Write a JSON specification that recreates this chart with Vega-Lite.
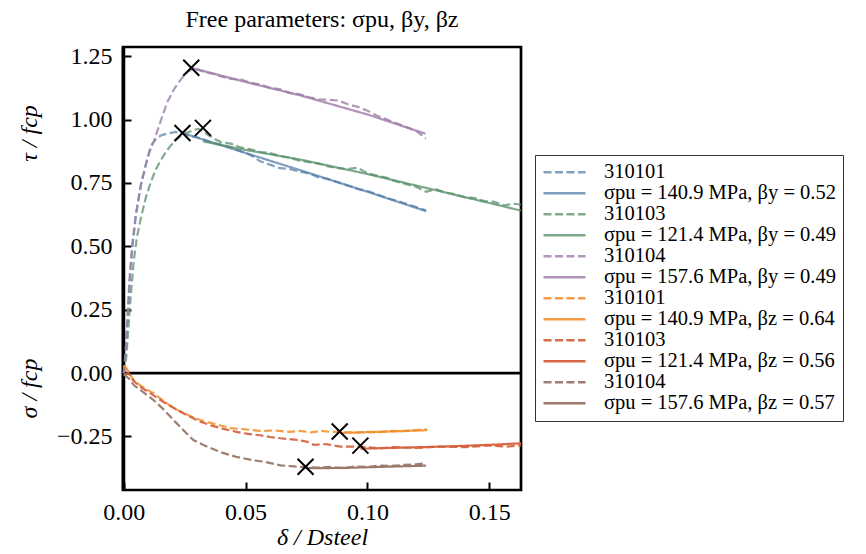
{
  "$schema": "https://vega.github.io/schema/vega-lite/v6.json",
  "width": 398,
  "height": 443,
  "autosize": {"type": "none"},
  "padding": {"left": 123, "top": 47, "right": 345, "bottom": 64},
  "background": "white",
  "title": {"text": "Free parameters: σpu, βy, βz", "offset": 12, "anchor": "middle"},
  "config": {
    "font": "Liberation Serif",
    "view": {"stroke": "black", "strokeWidth": 2.7},
    "title": {"font": "Liberation Serif", "fontSize": 24, "fontWeight": "normal", "color": "black"},
    "legend": {"labelFont": "Liberation Serif", "labelFontSize": 20.5, "labelColor": "black"},
    "axis": {"labelFont": "Liberation Serif", "labelFontSize": 24, "labelColor": "black", "titleFont": "Liberation Serif", "titleFontSize": 24, "titleFontWeight": "normal", "titleColor": "black", "grid": false, "tickColor": "black", "tickWidth": 2, "tickSize": -8, "domainColor": "black"}
  },
  "datasets": {
    "curves": [
      {"s":"01","x":0,"y":0},{"s":"01","x":0.0008,"y":0.08},{"s":"01","x":0.0016,"y":0.22},{"s":"01","x":0.0025,"y":0.37},{"s":"01","x":0.0035,"y":0.49},{"s":"01","x":0.005,"y":0.62},{"s":"01","x":0.007,"y":0.74},{"s":"01","x":0.009,"y":0.82},{"s":"01","x":0.0105,"y":0.875},{"s":"01","x":0.0117,"y":0.905},{"s":"01","x":0.0135,"y":0.925},{"s":"01","x":0.0152,"y":0.937},{"s":"01","x":0.018,"y":0.945},{"s":"01","x":0.0213,"y":0.951},{"s":"01","x":0.024,"y":0.945},{"s":"01","x":0.027,"y":0.935},{"s":"01","x":0.03,"y":0.93},{"s":"01","x":0.033,"y":0.92},{"s":"01","x":0.036,"y":0.91},{"s":"01","x":0.04,"y":0.9},{"s":"01","x":0.044,"y":0.89},{"s":"01","x":0.048,"y":0.875},{"s":"01","x":0.052,"y":0.86},{"s":"01","x":0.056,"y":0.835},{"s":"01","x":0.06,"y":0.822},{"s":"01","x":0.064,"y":0.808},{"s":"01","x":0.068,"y":0.805},{"s":"01","x":0.072,"y":0.795},{"s":"01","x":0.076,"y":0.787},{"s":"01","x":0.08,"y":0.772},{"s":"01","x":0.084,"y":0.765},{"s":"01","x":0.088,"y":0.752},{"s":"01","x":0.092,"y":0.74},{"s":"01","x":0.096,"y":0.726},{"s":"01","x":0.1,"y":0.718},{"s":"01","x":0.104,"y":0.705},{"s":"01","x":0.108,"y":0.69},{"s":"01","x":0.112,"y":0.68},{"s":"01","x":0.116,"y":0.668},{"s":"01","x":0.12,"y":0.655},{"s":"01","x":0.124,"y":0.642},
      {"s":"02","x":0.0241,"y":0.947},{"s":"02","x":0.05,"y":0.868},{"s":"02","x":0.0725,"y":0.8},{"s":"02","x":0.1,"y":0.715},{"s":"02","x":0.1242,"y":0.638},
      {"s":"03","x":0,"y":0},{"s":"03","x":0.001,"y":0.06},{"s":"03","x":0.002,"y":0.19},{"s":"03","x":0.003,"y":0.32},{"s":"03","x":0.0042,"y":0.45},{"s":"03","x":0.0055,"y":0.54},{"s":"03","x":0.007,"y":0.61},{"s":"03","x":0.009,"y":0.69},{"s":"03","x":0.011,"y":0.75},{"s":"03","x":0.013,"y":0.8},{"s":"03","x":0.0152,"y":0.84},{"s":"03","x":0.0175,"y":0.875},{"s":"03","x":0.0195,"y":0.9},{"s":"03","x":0.0215,"y":0.92},{"s":"03","x":0.0234,"y":0.935},{"s":"03","x":0.026,"y":0.948},{"s":"03","x":0.0285,"y":0.958},{"s":"03","x":0.0305,"y":0.963},{"s":"03","x":0.0325,"y":0.955},{"s":"03","x":0.0345,"y":0.94},{"s":"03","x":0.037,"y":0.925},{"s":"03","x":0.04,"y":0.91},{"s":"03","x":0.044,"y":0.905},{"s":"03","x":0.048,"y":0.89},{"s":"03","x":0.052,"y":0.882},{"s":"03","x":0.056,"y":0.872},{"s":"03","x":0.06,"y":0.868},{"s":"03","x":0.064,"y":0.856},{"s":"03","x":0.068,"y":0.85},{"s":"03","x":0.072,"y":0.838},{"s":"03","x":0.076,"y":0.832},{"s":"03","x":0.08,"y":0.826},{"s":"03","x":0.084,"y":0.815},{"s":"03","x":0.088,"y":0.808},{"s":"03","x":0.092,"y":0.805},{"s":"03","x":0.096,"y":0.81},{"s":"03","x":0.1,"y":0.788},{"s":"03","x":0.104,"y":0.778},{"s":"03","x":0.108,"y":0.77},{"s":"03","x":0.112,"y":0.755},{"s":"03","x":0.116,"y":0.745},{"s":"03","x":0.12,"y":0.735},{"s":"03","x":0.124,"y":0.715},{"s":"03","x":0.128,"y":0.725},{"s":"03","x":0.132,"y":0.712},{"s":"03","x":0.136,"y":0.705},{"s":"03","x":0.14,"y":0.693},{"s":"03","x":0.144,"y":0.69},{"s":"03","x":0.148,"y":0.678},{"s":"03","x":0.152,"y":0.675},{"s":"03","x":0.156,"y":0.662},{"s":"03","x":0.16,"y":0.668},{"s":"03","x":0.163,"y":0.664},
      {"s":"04","x":0.0325,"y":0.914},{"s":"04","x":0.05,"y":0.88},{"s":"04","x":0.0725,"y":0.842},{"s":"04","x":0.1,"y":0.785},{"s":"04","x":0.1242,"y":0.73},{"s":"04","x":0.163,"y":0.641},
      {"s":"05","x":0,"y":0},{"s":"05","x":0.0008,"y":0.09},{"s":"05","x":0.0016,"y":0.24},{"s":"05","x":0.0025,"y":0.39},{"s":"05","x":0.0035,"y":0.51},{"s":"05","x":0.005,"y":0.63},{"s":"05","x":0.007,"y":0.74},{"s":"05","x":0.009,"y":0.82},{"s":"05","x":0.0105,"y":0.87},{"s":"05","x":0.0124,"y":0.915},{"s":"05","x":0.015,"y":0.99},{"s":"05","x":0.0179,"y":1.07},{"s":"05","x":0.021,"y":1.125},{"s":"05","x":0.024,"y":1.165},{"s":"05","x":0.0265,"y":1.19},{"s":"05","x":0.0285,"y":1.2},{"s":"05","x":0.031,"y":1.195},{"s":"05","x":0.034,"y":1.185},{"s":"05","x":0.037,"y":1.18},{"s":"05","x":0.04,"y":1.17},{"s":"05","x":0.044,"y":1.16},{"s":"05","x":0.048,"y":1.158},{"s":"05","x":0.052,"y":1.145},{"s":"05","x":0.056,"y":1.138},{"s":"05","x":0.06,"y":1.125},{"s":"05","x":0.064,"y":1.12},{"s":"05","x":0.068,"y":1.105},{"s":"05","x":0.072,"y":1.1},{"s":"05","x":0.076,"y":1.088},{"s":"05","x":0.08,"y":1.08},{"s":"05","x":0.084,"y":1.078},{"s":"05","x":0.088,"y":1.075},{"s":"05","x":0.092,"y":1.06},{"s":"05","x":0.096,"y":1.05},{"s":"05","x":0.1,"y":1.035},{"s":"05","x":0.104,"y":1.015},{"s":"05","x":0.108,"y":1.0},{"s":"05","x":0.112,"y":0.985},{"s":"05","x":0.116,"y":0.97},{"s":"05","x":0.12,"y":0.955},{"s":"05","x":0.124,"y":0.925},
      {"s":"06","x":0.0277,"y":1.204},{"s":"06","x":0.05,"y":1.148},{"s":"06","x":0.0725,"y":1.095},{"s":"06","x":0.1,"y":1.02},{"s":"06","x":0.1238,"y":0.944},
      {"s":"07","x":0,"y":0.03},{"s":"07","x":0.001,"y":0.02},{"s":"07","x":0.002,"y":0.005},{"s":"07","x":0.004,"y":-0.028},{"s":"07","x":0.007,"y":-0.05},{"s":"07","x":0.0123,"y":-0.08},{"s":"07","x":0.017,"y":-0.115},{"s":"07","x":0.022,"y":-0.146},{"s":"07","x":0.027,"y":-0.168},{"s":"07","x":0.0316,"y":-0.186},{"s":"07","x":0.037,"y":-0.2},{"s":"07","x":0.0439,"y":-0.217},{"s":"07","x":0.05,"y":-0.222},{"s":"07","x":0.056,"y":-0.228},{"s":"07","x":0.062,"y":-0.226},{"s":"07","x":0.068,"y":-0.232},{"s":"07","x":0.0725,"y":-0.228},{"s":"07","x":0.077,"y":-0.234},{"s":"07","x":0.081,"y":-0.228},{"s":"07","x":0.085,"y":-0.232},{"s":"07","x":0.0886,"y":-0.231},{"s":"07","x":0.095,"y":-0.235},{"s":"07","x":0.1,"y":-0.232},{"s":"07","x":0.105,"y":-0.233},{"s":"07","x":0.11,"y":-0.228},{"s":"07","x":0.115,"y":-0.229},{"s":"07","x":0.12,"y":-0.225},{"s":"07","x":0.1245,"y":-0.222},
      {"s":"08","x":0.0886,"y":-0.236},{"s":"08","x":0.1,"y":-0.233},{"s":"08","x":0.11,"y":-0.23},{"s":"08","x":0.1245,"y":-0.225},
      {"s":"09","x":0,"y":-0.005},{"s":"09","x":0.002,"y":0.0},{"s":"09","x":0.004,"y":-0.03},{"s":"09","x":0.007,"y":-0.055},{"s":"09","x":0.011,"y":-0.08},{"s":"09","x":0.0152,"y":-0.107},{"s":"09","x":0.02,"y":-0.135},{"s":"09","x":0.026,"y":-0.166},{"s":"09","x":0.031,"y":-0.19},{"s":"09","x":0.0357,"y":-0.206},{"s":"09","x":0.041,"y":-0.22},{"s":"09","x":0.0467,"y":-0.233},{"s":"09","x":0.051,"y":-0.24},{"s":"09","x":0.056,"y":-0.245},{"s":"09","x":0.06,"y":-0.252},{"s":"09","x":0.0643,"y":-0.257},{"s":"09","x":0.07,"y":-0.262},{"s":"09","x":0.075,"y":-0.27},{"s":"09","x":0.078,"y":-0.283},{"s":"09","x":0.083,"y":-0.28},{"s":"09","x":0.089,"y":-0.29},{"s":"09","x":0.0971,"y":-0.29},{"s":"09","x":0.105,"y":-0.297},{"s":"09","x":0.11,"y":-0.292},{"s":"09","x":0.12,"y":-0.295},{"s":"09","x":0.13,"y":-0.29},{"s":"09","x":0.14,"y":-0.292},{"s":"09","x":0.15,"y":-0.285},{"s":"09","x":0.157,"y":-0.29},{"s":"09","x":0.163,"y":-0.285},
      {"s":"10","x":0.0971,"y":-0.298},{"s":"10","x":0.11,"y":-0.295},{"s":"10","x":0.13,"y":-0.29},{"s":"10","x":0.15,"y":-0.283},{"s":"10","x":0.163,"y":-0.277},
      {"s":"11","x":0,"y":-0.005},{"s":"11","x":0.002,"y":-0.02},{"s":"11","x":0.0041,"y":-0.047},{"s":"11","x":0.008,"y":-0.075},{"s":"11","x":0.0123,"y":-0.107},{"s":"11","x":0.016,"y":-0.14},{"s":"11","x":0.0205,"y":-0.186},{"s":"11","x":0.025,"y":-0.23},{"s":"11","x":0.0287,"y":-0.265},{"s":"11","x":0.033,"y":-0.285},{"s":"11","x":0.0398,"y":-0.312},{"s":"11","x":0.046,"y":-0.33},{"s":"11","x":0.0533,"y":-0.344},{"s":"11","x":0.058,"y":-0.35},{"s":"11","x":0.0643,"y":-0.364},{"s":"11","x":0.07,"y":-0.368},{"s":"11","x":0.0746,"y":-0.371},{"s":"11","x":0.08,"y":-0.373},{"s":"11","x":0.085,"y":-0.37},{"s":"11","x":0.09,"y":-0.375},{"s":"11","x":0.095,"y":-0.368},{"s":"11","x":0.1,"y":-0.37},{"s":"11","x":0.105,"y":-0.365},{"s":"11","x":0.11,"y":-0.366},{"s":"11","x":0.115,"y":-0.362},{"s":"11","x":0.12,"y":-0.36},{"s":"11","x":0.124,"y":-0.355},
      {"s":"12","x":0.0746,"y":-0.375},{"s":"12","x":0.09,"y":-0.374},{"s":"12","x":0.105,"y":-0.37},{"s":"12","x":0.124,"y":-0.365}
    ],
    "peaks": [
      {"x":0.0241,"y":0.947},{"x":0.0325,"y":0.967},{"x":0.0277,"y":1.204},
      {"x":0.0886,"y":-0.2305},{"x":0.0971,"y":-0.286},{"x":0.0746,"y":-0.369}
    ],
    "zero": [{"y":0}]
  },
  "layer": [
    {
      "data": {"name": "zero"},
      "mark": {"type": "rule", "color": "black", "strokeWidth": 2.7},
      "encoding": {
        "y": {"field": "y", "type": "quantitative", "scale": {"domain": [-0.461, 1.286], "nice": false, "zero": false},
          "axis": {"orient": "left", "title": "σ / fcp", "titleFontStyle": "italic", "labels": false, "ticks": false, "domain": false, "titleX": -94, "titleY": 341, "titleAngle": -90, "titleBaseline": "middle", "titleAlign": "center"}}
      }
    },
    {
      "data": {"name": "curves"},
      "mark": {"type": "line", "strokeWidth": 2.2},
      "encoding": {
        "x": {"field": "x", "type": "quantitative", "scale": {"domain": [-0.0003, 0.163], "nice": false, "zero": false},
          "axis": {"values": [0, 0.05, 0.1, 0.15], "format": ".2f", "title": "δ / Dsteel", "titleFontStyle": "italic", "domain": false, "labelPadding": 18, "titleY": 47, "titleBaseline": "middle", "labelFlush": false}},
        "y": {"field": "y", "type": "quantitative",
          "axis": {"orient": "left", "values": [-0.25, 0, 0.25, 0.5, 0.75, 1.0, 1.25], "format": ".2f", "title": "τ / fcp", "titleFontStyle": "italic", "domain": true, "domainWidth": 3.5, "labelPadding": 19, "titleX": -94, "titleY": 86, "titleAngle": -90, "titleBaseline": "middle", "titleAlign": "center"}},
        "color": {"field": "s", "type": "nominal",
          "scale": {"domain": ["01","02","03","04","05","06","07","08","09","10","11","12"],
            "range": ["#4E79A7","#4E79A7","#59906A","#59906A","#9F7FAA","#9F7FAA","#F28E2B","#F28E2B","#D5603D","#D5603D","#9A7B6B","#9A7B6B"]},
          "legend": {"orient": "none", "legendX": 412, "legendY": 108, "title": null, "symbolType": "stroke", "symbolSize": 1764, "symbolStrokeWidth": 2.5, "clipHeight": 20.6, "labelFont": "Liberation Serif", "labelFontSize": 20.5, "labelColor": "black", "labelOffset": 17, "labelLimit": 500, "padding": 7, "rowPadding": 0, "strokeColor": "#333333", "fillColor": "white", "cornerRadius": 0,
            "labelExpr": "{'01':'310101','02':'σpu = 140.9 MPa, βy = 0.52      ','03':'310103','04':'σpu = 121.4 MPa, βy = 0.49','05':'310104','06':'σpu = 157.6 MPa, βy = 0.49','07':'310101','08':'σpu = 140.9 MPa, βz = 0.64','09':'310103','10':'σpu = 121.4 MPa, βz = 0.56','11':'310104','12':'σpu = 157.6 MPa, βz = 0.57'}[datum.label]"}},
        "strokeDash": {"field": "s", "type": "nominal",
          "scale": {"domain": ["01","02","03","04","05","06","07","08","09","10","11","12"],
            "range": [[8,3.5],[1,0],[8,3.5],[1,0],[8,3.5],[1,0],[8,3.5],[1,0],[8,3.5],[1,0],[8,3.5],[1,0]]}},
        "opacity": {"field": "s", "type": "nominal",
          "scale": {"domain": ["01","02","03","04","05","06","07","08","09","10","11","12"],
            "range": [0.7,1,0.7,1,0.7,1,0.7,1,0.7,1,0.7,1]}}
      }
    },
    {
      "data": {"name": "peaks"},
      "mark": {"type": "point", "shape": "M-1,-1L1,1M-1,1L1,-1", "filled": false, "stroke": "black", "strokeWidth": 2, "size": 256, "opacity": 1},
      "encoding": {
        "x": {"field": "x", "type": "quantitative"},
        "y": {"field": "y", "type": "quantitative", "axis": null}
      }
    }
  ],
  "resolve": {"axis": {"y": "independent"}}
}
